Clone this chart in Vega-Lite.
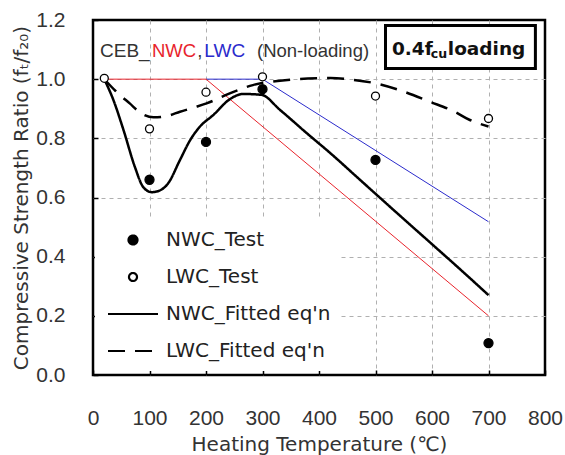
{
  "$schema": "https://vega.github.io/schema/vega-lite/v6.json",
  "width": 452,
  "height": 355,
  "autosize": {"type": "none"},
  "padding": {"left": 93, "top": 20, "right": 20, "bottom": 80},
  "background": "white",
  "datasets": {
    "nonload": [
      {"T": 200, "ratio": 1.0, "series": "LWC"},
      {"T": 300, "ratio": 1.0, "series": "LWC"},
      {"T": 700, "ratio": 0.518, "series": "LWC"},
      {"T": 20, "ratio": 1.0, "series": "NWC"},
      {"T": 200, "ratio": 1.0, "series": "NWC"},
      {"T": 700, "ratio": 0.2, "series": "NWC"}
    ],
    "fitted": [
      {"T": 20, "ratio": 1.0, "series": "NWC_Fitted eq'n"},
      {"T": 36, "ratio": 0.93, "series": "NWC_Fitted eq'n"},
      {"T": 54, "ratio": 0.828, "series": "NWC_Fitted eq'n"},
      {"T": 74, "ratio": 0.704, "series": "NWC_Fitted eq'n"},
      {"T": 89, "ratio": 0.635, "series": "NWC_Fitted eq'n"},
      {"T": 104, "ratio": 0.618, "series": "NWC_Fitted eq'n"},
      {"T": 116, "ratio": 0.622, "series": "NWC_Fitted eq'n"},
      {"T": 133, "ratio": 0.648, "series": "NWC_Fitted eq'n"},
      {"T": 154, "ratio": 0.727, "series": "NWC_Fitted eq'n"},
      {"T": 172, "ratio": 0.794, "series": "NWC_Fitted eq'n"},
      {"T": 189, "ratio": 0.839, "series": "NWC_Fitted eq'n"},
      {"T": 213, "ratio": 0.879, "series": "NWC_Fitted eq'n"},
      {"T": 242, "ratio": 0.932, "series": "NWC_Fitted eq'n"},
      {"T": 266, "ratio": 0.95, "series": "NWC_Fitted eq'n"},
      {"T": 298, "ratio": 0.947, "series": "NWC_Fitted eq'n"},
      {"T": 331, "ratio": 0.896, "series": "NWC_Fitted eq'n"},
      {"T": 378, "ratio": 0.818, "series": "NWC_Fitted eq'n"},
      {"T": 420, "ratio": 0.75, "series": "NWC_Fitted eq'n"},
      {"T": 473, "ratio": 0.659, "series": "NWC_Fitted eq'n"},
      {"T": 543, "ratio": 0.539, "series": "NWC_Fitted eq'n"},
      {"T": 596, "ratio": 0.449, "series": "NWC_Fitted eq'n"},
      {"T": 650, "ratio": 0.357, "series": "NWC_Fitted eq'n"},
      {"T": 700, "ratio": 0.27, "series": "NWC_Fitted eq'n"},
      {"T": 20, "ratio": 1.0, "series": "LWC_Fitted eq'n"},
      {"T": 40, "ratio": 0.96, "series": "LWC_Fitted eq'n"},
      {"T": 65, "ratio": 0.918, "series": "LWC_Fitted eq'n"},
      {"T": 85, "ratio": 0.885, "series": "LWC_Fitted eq'n"},
      {"T": 107, "ratio": 0.871, "series": "LWC_Fitted eq'n"},
      {"T": 130, "ratio": 0.875, "series": "LWC_Fitted eq'n"},
      {"T": 154, "ratio": 0.89, "series": "LWC_Fitted eq'n"},
      {"T": 180, "ratio": 0.905, "series": "LWC_Fitted eq'n"},
      {"T": 201, "ratio": 0.918, "series": "LWC_Fitted eq'n"},
      {"T": 242, "ratio": 0.952, "series": "LWC_Fitted eq'n"},
      {"T": 283, "ratio": 0.98, "series": "LWC_Fitted eq'n"},
      {"T": 331, "ratio": 0.995, "series": "LWC_Fitted eq'n"},
      {"T": 380, "ratio": 1.002, "series": "LWC_Fitted eq'n"},
      {"T": 420, "ratio": 1.004, "series": "LWC_Fitted eq'n"},
      {"T": 460, "ratio": 0.998, "series": "LWC_Fitted eq'n"},
      {"T": 500, "ratio": 0.986, "series": "LWC_Fitted eq'n"},
      {"T": 550, "ratio": 0.958, "series": "LWC_Fitted eq'n"},
      {"T": 596, "ratio": 0.924, "series": "LWC_Fitted eq'n"},
      {"T": 640, "ratio": 0.89, "series": "LWC_Fitted eq'n"},
      {"T": 667, "ratio": 0.862, "series": "LWC_Fitted eq'n"},
      {"T": 700, "ratio": 0.84, "series": "LWC_Fitted eq'n"}
    ],
    "tests": [
      {"T": 100, "ratio": 0.66, "series": "NWC_Test"},
      {"T": 200, "ratio": 0.788, "series": "NWC_Test"},
      {"T": 300, "ratio": 0.966, "series": "NWC_Test"},
      {"T": 500, "ratio": 0.727, "series": "NWC_Test"},
      {"T": 700, "ratio": 0.108, "series": "NWC_Test"},
      {"T": 20, "ratio": 1.003, "series": "LWC_Test"},
      {"T": 100, "ratio": 0.832, "series": "LWC_Test"},
      {"T": 200, "ratio": 0.956, "series": "LWC_Test"},
      {"T": 300, "ratio": 1.008, "series": "LWC_Test"},
      {"T": 500, "ratio": 0.943, "series": "LWC_Test"},
      {"T": 700, "ratio": 0.867, "series": "LWC_Test"}
    ]
  },
  "layer": [
    {
      "data": {"name": "nonload"},
      "mark": {"type": "line", "strokeWidth": 1},
      "encoding": {
        "x": {
          "field": "T", "type": "quantitative",
          "scale": {"domain": [0, 800], "nice": false, "zero": false},
          "axis": {
            "title": "Heating Temperature (℃)",
            "values": [0, 100, 200, 300, 400, 500, 600, 700, 800],
            "labelFlush": false, "labelOverlap": false,
            "labelPadding": 37, "titlePadding": 6,
            "gridOpacity": {"condition": {"test": "datum.value === 0 || datum.value === 800", "value": 0}, "value": 1}
          }
        },
        "y": {
          "field": "ratio", "type": "quantitative",
          "scale": {"domain": [0, 1.2], "nice": false, "zero": false},
          "axis": {
            "title": "Compressive Strength Ratio (fₜ/f₂₀)",
            "values": [0, 0.2, 0.4, 0.6, 0.8, 1.0, 1.2],
            "format": ".1f", "labelOverlap": false, "labelFlush": false,
            "labelPadding": 33, "titlePadding": 4,
            "gridOpacity": {"condition": {"test": "datum.value === 0 || datum.value === 1.2", "value": 0}, "value": 1}
          }
        },
        "color": {"field": "series", "type": "nominal", "scale": {"domain": ["NWC", "LWC"], "range": ["#e8242c", "#2b2bcc"]}, "legend": null}
      }
    },
    {
      "data": {"name": "fitted"},
      "mark": {"type": "line", "color": "black", "strokeWidth": 2.5, "interpolate": "monotone"},
      "encoding": {
        "x": {"field": "T", "type": "quantitative"},
        "y": {"field": "ratio", "type": "quantitative"},
        "strokeDash": {
          "field": "series", "type": "nominal",
          "scale": {"domain": ["NWC_Test", "LWC_Test", "NWC_Fitted eq'n", "LWC_Fitted eq'n"], "range": [[1, 0], [1, 0], [1, 0], [17, 10]]},
          "legend": {"title": null, "orient": "none", "legendX": 2, "legendY": 200, "fillColor": "white", "padding": 10, "labelFontSize": 20, "labelColor": "#222", "labelLimit": 400, "symbolSize": 100, "symbolStrokeColor": "black", "symbolStrokeWidth": 2, "symbolOffset": 18, "labelOffset": 23, "rowPadding": 17, "encode": {"symbols": {"update": {"stroke": {"value": "black"}, "strokeWidth": {"value": 2.2}, "opacity": {"value": 1}}}}}
        }
      }
    },
    {
      "data": {"name": "tests"},
      "mark": {"type": "point", "filled": true, "stroke": "black", "strokeWidth": 1.3, "size": 100, "opacity": 1},
      "encoding": {
        "x": {"field": "T", "type": "quantitative"},
        "y": {"field": "ratio", "type": "quantitative"},
        "shape": {
          "field": "series", "type": "nominal",
          "scale": {"domain": ["NWC_Test", "LWC_Test", "NWC_Fitted eq'n", "LWC_Fitted eq'n"], "range": ["M-0.9,0A0.9,0.9,0,1,1,0.9,0A0.9,0.9,0,1,1,-0.9,0Z", "M-0.8,0A0.8,0.8,0,1,1,0.8,0A0.8,0.8,0,1,1,-0.8,0Z", "M-5,0L5,0", "M-5,0L5,0"]},
          "legend": {"title": null, "orient": "none", "legendX": 2, "legendY": 200, "fillColor": "white", "padding": 10, "labelFontSize": 20, "labelColor": "#222", "labelLimit": 400, "symbolSize": 100, "symbolStrokeColor": "black", "symbolStrokeWidth": 2, "symbolOffset": 18, "labelOffset": 23, "rowPadding": 17, "encode": {"symbols": {"update": {"stroke": {"value": "black"}, "strokeWidth": {"value": 2.2}, "opacity": {"value": 1}}}}}
        },
        "fill": {
          "field": "series", "type": "nominal",
          "scale": {"domain": ["NWC_Test", "LWC_Test", "NWC_Fitted eq'n", "LWC_Fitted eq'n"], "range": ["black", "white", "black", "black"]},
          "legend": {"title": null, "orient": "none", "legendX": 2, "legendY": 200, "fillColor": "white", "padding": 10, "labelFontSize": 20, "labelColor": "#222", "labelLimit": 400, "symbolSize": 100, "symbolStrokeColor": "black", "symbolStrokeWidth": 2, "symbolOffset": 18, "labelOffset": 23, "rowPadding": 17, "encode": {"symbols": {"update": {"stroke": {"value": "black"}, "strokeWidth": {"value": 2.2}, "opacity": {"value": 1}}}}}
        }
      }
    },
    {
      "data": {"values": [{}]},
      "layer": [
        {
          "mark": {"type": "rect", "fill": "white", "stroke": "black", "strokeWidth": 3},
          "encoding": {"x": {"datum": 517.7}, "x2": {"datum": 783}, "y": {"datum": 1.181}, "y2": {"datum": 1.036}}
        },
        {
          "mark": {"type": "text", "text": "0.4f", "align": "left", "baseline": "alphabetic", "fontSize": 18.5, "fontWeight": "bold", "color": "#111"},
          "encoding": {"x": {"datum": 529}, "y": {"datum": 1.082}}
        },
        {
          "mark": {"type": "text", "text": "cu", "align": "left", "baseline": "alphabetic", "fontSize": 12.5, "fontWeight": "bold", "color": "#111"},
          "encoding": {"x": {"datum": 598}, "y": {"datum": 1.07}}
        },
        {
          "mark": {"type": "text", "text": "loading", "align": "left", "baseline": "alphabetic", "fontSize": 18.5, "fontWeight": "bold", "color": "#111"},
          "encoding": {"x": {"datum": 628}, "y": {"datum": 1.082}}
        },
        {
          "mark": {"type": "text", "text": "CEB_", "align": "left", "baseline": "alphabetic", "font": "Liberation Sans", "fontSize": 19, "color": "#333"},
          "encoding": {"x": {"datum": 12.4}, "y": {"datum": 1.076}}
        },
        {
          "mark": {"type": "text", "text": "NWC", "align": "left", "baseline": "alphabetic", "font": "Liberation Sans", "fontSize": 18.5, "color": "#e8242c"},
          "encoding": {"x": {"datum": 104.4}, "y": {"datum": 1.076}}
        },
        {
          "mark": {"type": "text", "text": ",", "align": "left", "baseline": "alphabetic", "font": "Liberation Sans", "fontSize": 18.5, "color": "#333"},
          "encoding": {"x": {"datum": 184.5}, "y": {"datum": 1.076}}
        },
        {
          "mark": {"type": "text", "text": "LWC", "align": "left", "baseline": "alphabetic", "font": "Liberation Sans", "fontSize": 19, "color": "#2b2bcc"},
          "encoding": {"x": {"datum": 197}, "y": {"datum": 1.076}}
        },
        {
          "mark": {"type": "text", "text": "(Non-loading)", "align": "left", "baseline": "alphabetic", "font": "Liberation Sans", "fontSize": 18.5, "color": "#333"},
          "encoding": {"x": {"datum": 290.3}, "y": {"datum": 1.076}}
        }
      ]
    }
  ],
  "config": {
    "font": "DejaVu Sans",
    "view": {"stroke": "black", "strokeWidth": 2.5},
    "axis": {
      "domain": false,
      "grid": true,
      "gridColor": "#b0b0b0",
      "gridDash": [4, 4],
      "gridWidth": 1,
      "ticks": true,
      "tickColor": "black",
      "tickSize": -5,
      "tickWidth": 1.5,
      "labelColor": "#333",
      "labelFont": "Liberation Sans",
      "labelFontSize": 21,
      "titleColor": "#333",
      "titleFontSize": 20,
      "titleFontWeight": "normal"
    },
    "legend": {"labelFont": "DejaVu Sans"}
  }
}
